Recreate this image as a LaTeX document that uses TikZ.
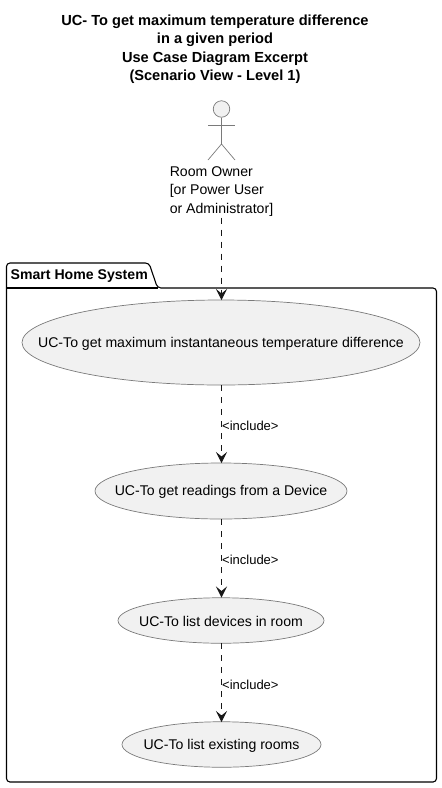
\documentclass[tikz,border=0pt]{standalone}
\usepackage{fontspec}
\setmainfont{Liberation Sans}
\usepackage{tikz}
\usetikzlibrary{shapes.geometric,arrows.meta}
\definecolor{ucfill}{HTML}{F1F1F1}
\definecolor{ucline}{HTML}{7A7A7A}
\definecolor{ucarrow}{HTML}{181818}
\tikzset{
  usecase/.style={ellipse,draw=ucline,fill=ucfill,line width=0.7pt,inner sep=0pt},
  uctext/.style={font=\fontsize{14.1}{16}\selectfont,text=black,inner sep=0pt,yshift=-1pt},
  include/.style={draw=ucarrow,line width=1pt,dash pattern=on 6pt off 6pt,-{Stealth[length=11pt,width=11pt,inset=4.5pt]}},
  inclabel/.style={anchor=west,inner sep=0pt,font=\fontsize{13}{15}\selectfont},
  stick/.style={draw=ucline,line width=0.7pt}
}
\begin{document}
\begin{tikzpicture}[x=1pt, y=-1pt]
      \useasboundingbox (0,0) rectangle (442,788);
      % title
      \node[align=center,inner sep=0pt,font=\bfseries\fontsize{14.6}{18.6}\selectfont] (title) at (215,49.3)
        {UC- To get maximum temperature difference\\in a given period\\Use Case Diagram Excerpt\\(Scenario View - Level 1)};
      % package
      \draw[line width=1.1pt,rounded corners=3.5pt,draw=black] (6.5,288) -- (6.5,263) -- (149,263) -- (157.5,288) -- (436.5,288) -- (436.5,782) -- (6.5,782) -- cycle;
      \draw[line width=1.1pt] (6.5,288) -- (157.5,288);
      \node[anchor=west,inner sep=0pt,font=\bfseries\fontsize{14.1}{16}\selectfont] (pkg) at (10.5,276.5) {Smart Home System};
      % actor
      \node[circle,draw=ucline,fill=ucfill,line width=0.7pt,minimum size=16.5pt,inner sep=0pt] (head) at (221.5,109) {};
      \coordinate (hip) at (221.5,144);
      \coordinate (armL) at (208,125.5);
      \coordinate (armR) at (235,125.5);
      \coordinate (footL) at (208,160);
      \coordinate (footR) at (235,160);
      \draw[stick] (head.south) -- (hip);
      \draw[stick] (armL) -- (armR);
      \draw[stick] (footL) -- (hip) -- (footR);
      \node[align=left,inner sep=0pt,font=\fontsize{14.1}{18.5}\selectfont] (owner) at (221.5,191.2)
        {Room Owner\\{[}or Power User\\or Administrator]};
      % use cases
      \node[usecase,minimum width=398pt,minimum height=85pt,label={[uctext]center:UC-To get maximum instantaneous temperature difference}] (ucDiff) at (221,342.5) {};
      \node[usecase,minimum width=252pt,minimum height=56pt,label={[uctext]center:UC-To get readings from a Device}] (ucRead) at (221,491) {};
      \node[usecase,minimum width=206pt,minimum height=45.5pt,label={[uctext]center:UC-To list devices in room}] (ucDev) at (221,620.5) {};
      \node[usecase,minimum width=199pt,minimum height=45.5pt,label={[uctext]center:UC-To list existing rooms}] (ucRoom) at (221.5,744.5) {};
      % connectors
      \coordinate (ownerOut) at (221.5,217.5);
      \coordinate (diffIn) at (221.5,300);
      \coordinate (diffOut) at (221.5,385);
      \coordinate (readIn) at (221.5,463);
      \coordinate (readOut) at (221.5,519);
      \coordinate (devIn) at (221.5,597.5);
      \coordinate (devOut) at (221.5,643);
      \coordinate (roomIn) at (221.5,722);
      \draw[include] (ownerOut) -- (diffIn);
      \draw[include] (diffOut) -- (readIn);
      \draw[include] (readOut) -- (devIn);
      \draw[include] (devOut) -- (roomIn);
      \node[inclabel] (incA) at (222,425.5) {<include>};
      \node[inclabel] (incB) at (222,559.5) {<include>};
      \node[inclabel] (incC) at (222,684.5) {<include>};
\end{tikzpicture}
\end{document}
